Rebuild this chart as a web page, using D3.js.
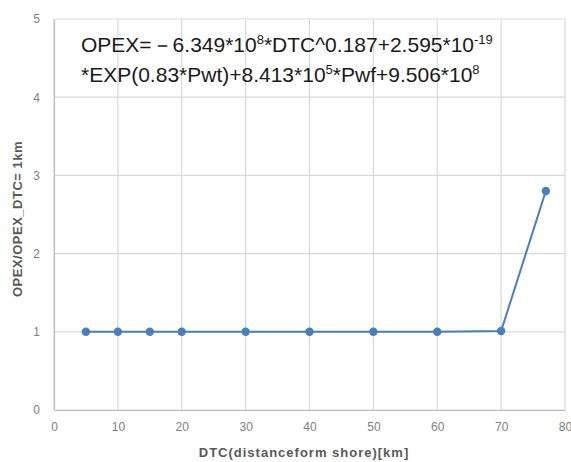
<!DOCTYPE html>
<html>
<head>
<meta charset="utf-8">
<script src="https://cdn.jsdelivr.net/npm/d3@7"></script>
<style>
  html, body { margin: 0; padding: 0; background: #fff; }
  svg { display: block; }
</style>
</head>
<body>
<svg id="chart" width="571" height="462"></svg>
<script>
// Distance to shore (km) and OPEX normalised to the 1 km case
const dtc = [5, 10, 15, 20, 30, 40, 50, 60, 70, 77];
const opexRatio = [1.0, 1.0, 1.0, 1.0, 1.0, 1.0, 1.0, 1.0, 1.01, 2.8];
const xTicks = [0, 10, 20, 30, 40, 50, 60, 70, 80];
const yTicks = [0, 1, 2, 3, 4, 5];

const svg = d3.select("#chart");
const margin = { left: 54, top: 19, right: 6, bottom: 52 };
const W = 571, H = 462;

const x = d3.scaleLinear().domain([0, 80]).range([margin.left, W - margin.right]);
const y = d3.scaleLinear().domain([0, 5]).range([H - margin.bottom, margin.top]);

const tickFont = "'Liberation Sans', Arial, sans-serif";
const gridColor = "#d9d9d9";

// Gridlines
svg.append("g").selectAll("line.h").data(yTicks).join("line")
  .attr("x1", x(0)).attr("x2", x(80))
  .attr("y1", d => y(d)).attr("y2", d => y(d))
  .attr("stroke", gridColor).attr("stroke-width", 1.2);
svg.append("g").selectAll("line.v").data(xTicks).join("line")
  .attr("y1", y(0)).attr("y2", y(5))
  .attr("x1", d => x(d)).attr("x2", d => x(d))
  .attr("stroke", gridColor).attr("stroke-width", 1.2);

// Axes
const xAxis = svg.append("g")
  .attr("transform", `translate(0,${y(0)})`)
  .call(d3.axisBottom(x).tickValues(xTicks).tickSize(0).tickPadding(12).tickFormat(d3.format("d")));
const yAxis = svg.append("g")
  .attr("transform", `translate(${x(0)},0)`)
  .call(d3.axisLeft(y).tickValues(yTicks).tickSize(0).tickPadding(14).tickFormat(d3.format("d")));
[xAxis, yAxis].forEach(g => {
  g.select(".domain").attr("stroke", "#bfbfbf").attr("stroke-width", 1.2);
  g.selectAll("text").attr("fill", "#7f7f7f")
    .style("font-family", tickFont).style("font-size", "12px");
});

// Series line and markers
const blue = "#4a7ebb";
const line = d3.line().x((d, i) => x(dtc[i])).y(d => y(d));
svg.append("path").datum(opexRatio)
  .attr("d", line).attr("fill", "none")
  .attr("stroke", blue).attr("stroke-width", 2);
svg.append("g").selectAll("circle").data(opexRatio).join("circle")
  .attr("cx", (d, i) => x(dtc[i])).attr("cy", d => y(d))
  .attr("r", 4.2).attr("fill", blue);

// Axis titles
svg.append("text")
  .attr("x", 304).attr("y", 457)
  .attr("text-anchor", "middle")
  .attr("fill", "#595959")
  .style("font-family", tickFont).style("font-size", "13px").style("font-weight", "bold")
  .style("letter-spacing", "1px")
  .text("DTC(distanceform shore)[km]");
svg.append("text")
  .attr("transform", "translate(22,219) rotate(-90)")
  .attr("text-anchor", "middle")
  .attr("fill", "#595959")
  .style("font-family", tickFont).style("font-size", "13px").style("font-weight", "bold")
  .style("letter-spacing", "0.5px")
  .text("OPEX/OPEX_DTC= 1km");

// Regression formula
const eqFont = "'Liberation Sans', Arial, sans-serif";
const eq = svg.append("g")
  .style("font-family", eqFont).style("font-size", "21px").attr("fill", "#1a1a1a");
function writeLine(yPos, parts) {
  const t = eq.append("text").attr("x", 81).attr("y", yPos);
  parts.forEach(p => {
    const s = t.append("tspan").text(p[0]);
    if (p[1]) s.attr("dy", p[1]);
    if (p[2]) s.style("font-size", p[2]);
  });
}
writeLine(52, [
  ["OPEX=－6.349*10"], ["8", -8, "13px"], ["*DTC^0.187+2.595*10", 8], ["-19", -8, "13px"]
]);
writeLine(82, [
  ["*EXP(0.83*Pwt)+8.413*10"], ["5", -8, "13px"], ["*Pwf+9.506*10", 8], ["8", -8, "13px"]
]);
</script>
</body>
</html>
